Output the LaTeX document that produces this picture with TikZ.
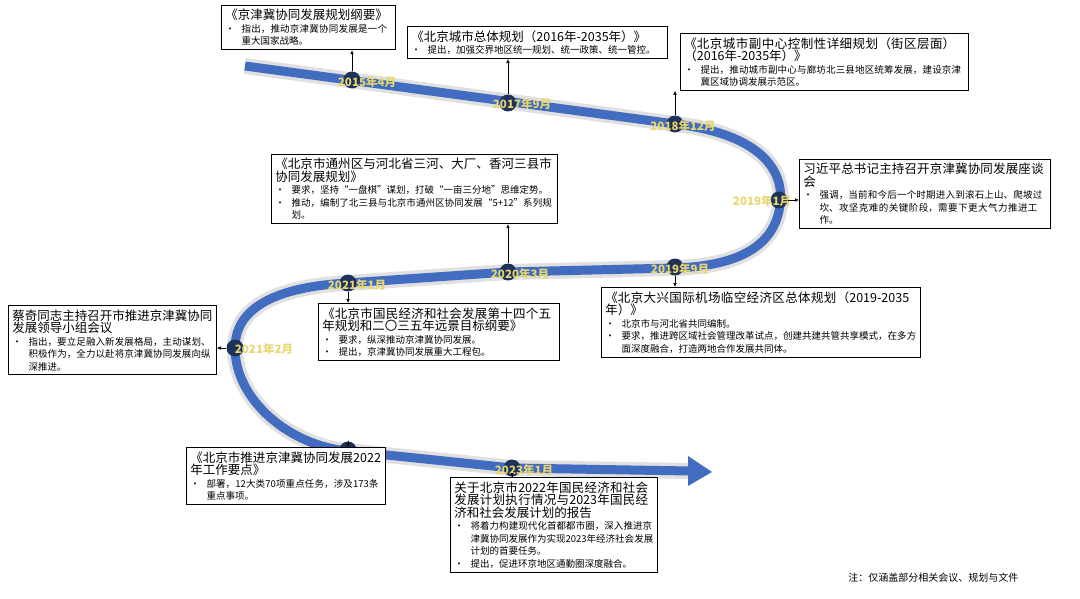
\documentclass[tikz,border=0pt]{standalone}
\usepackage{fontspec}
\setmainfont{Noto Sans CJK SC}
\XeTeXlinebreaklocale "zh"
\XeTeXlinebreakskip=0pt plus 1pt
\usetikzlibrary{arrows.meta}
\definecolor{pathblue}{RGB}{66,108,192}
\definecolor{mk}{RGB}{30,50,90}
\definecolor{lab}{RGB}{232,214,110}
\newcommand{\ttl}[1]{{\fontsize{12.5}{16}\selectfont #1}\par}
\newcommand{\bul}[1]{\par\hangindent=1.7em\hangafter=1\noindent\makebox[1.7em][l]{•}#1\par}
\tikzset{
 box/.style={draw, line width=0.8pt, fill=white, anchor=north west, inner sep=4pt, align=left, font=\fontsize{9.5}{12.5}\selectfont},
 dot/.style={circle, fill=mk, minimum size=17pt, inner sep=0pt},
 datelab/.style={text=lab, font=\bfseries\fontsize{11.5}{12}\selectfont},
 conn/.style={-{Latex[length=4pt,width=3.5pt]}, line width=0.5pt}
}
\begin{document}
\begin{tikzpicture}[x=1pt,y=-1pt]
\useasboundingbox (0,0) rectangle (1080,599);
\def\tl{(245,66) -- (675,124) .. controls (760,134) and (785,170) .. (780,205) .. controls (775,245) and (740,266) .. (675,268) -- (508,272) -- (348,283) .. controls (255,288) and (235,320) .. (235,348) .. controls (235,400) and (290,446) .. (348,451) -- (512,468) -- (690,471)}
\draw[line width=16pt, black!12, line join=round] \tl;
\draw[line width=9pt, pathblue, line join=round] \tl;
\fill[pathblue] (688,456) -- (712,472) -- (688,486) -- cycle;
\foreach \n/\x/\y in {a/352/80, b/508/103, c/675/124, d/779/200, e/675/267, f/508/272, g/348/283, h/235/348, i/348/450, j/512/468}{
  \node[dot] (m\n) at (\x,\y) {};
}
\node[datelab] at (367,82) {2015年4月};
\node[datelab] at (522,104) {2017年9月};
\node[datelab] at (683,126) {2018年12月};
\node[datelab] at (762,201) {2019年1月};
\node[datelab] at (680,269) {2019年9月};
\node[datelab] at (520,274) {2020年3月};
\node[datelab] at (357,285) {2021年1月};
\node[datelab] at (264,349) {2021年2月};
\node[datelab] at (358,453) {2022年4月};
\node[datelab] at (524,470) {2023年1月};
\node[box, text width=166pt] (b1) at (221,5) {\ttl{《京津冀协同发展规划纲要》}\bul{指出，推动京津冀协同发展是一个重大国家战略。}};
\node[box, text width=252pt] (b2) at (407,26) {\ttl{《北京城市总体规划（2016年-2035年）》}\bul{提出，加强交界地区统一规划、统一政策、统一管控。}};
\node[box, text width=280pt] (b3) at (680,33) {\ttl{《北京城市副中心控制性详细规划（街区层面）（2016年-2035年）》}\bul{提出，推动城市副中心与廊坊北三县地区统筹发展，建设京津冀区域协调发展示范区。}};
\node[box, text width=243pt] (b4) at (799,159) {\ttl{习近平总书记主持召开京津冀协同发展座谈会}\bul{强调，当前和今后一个时期进入到滚石上山、爬坡过坎、攻坚克难的关键阶段，需要下更大气力推进工作。}};
\node[box, text width=311pt] (b5) at (601,287) {\ttl{《北京大兴国际机场临空经济区总体规划（2019-2035年）》}\bul{北京市与河北省共同编制。}\bul{要求，推进跨区域社会管理改革试点，创建共建共管共享模式，在多方面深度融合，打造两地合作发展共同体。}};
\node[box, text width=278pt] (b6) at (271,154) {\ttl{《北京市通州区与河北省三河、大厂、香河三县市协同发展规划》}\bul{要求，坚持“一盘棋”谋划，打破“一亩三分地”思维定势。}\bul{推动，编制了北三县与北京市通州区协同发展“5+12”系列规划。}};
\node[box, text width=233pt] (b7) at (318,303) {\ttl{《北京市国民经济和社会发展第十四个五年规划和二〇三五年远景目标纲要》}\bul{要求，纵深推动京津冀协同发展。}\bul{提出，京津冀协同发展重大工程包。}};
\node[box, text width=200pt] (b8) at (8,305) {\ttl{蔡奇同志主持召开市推进京津冀协同发展领导小组会议}\bul{指出，要立足融入新发展格局，主动谋划、积极作为，全力以赴将京津冀协同发展向纵深推进。}};
\node[box, text width=191pt] (b9) at (186,447) {\ttl{《北京市推进京津冀协同发展2022年工作要点》}\bul{部署，12大类70项重点任务，涉及173条重点事项。}};
\node[box, text width=199pt] (b10) at (450,477) {\ttl{关于北京市2022年国民经济和社会发展计划执行情况与2023年国民经济和社会发展计划的报告}\bul{将着力构建现代化首都都市圈，深入推进京津冀协同发展作为实现2023年经济社会发展计划的首要任务。}\bul{提出，促进环京地区通勤圈深度融合。}};
\node[anchor=east, font=\fontsize{10}{12}\selectfont] (note) at (1022,578) {注：仅涵盖部分相关会议、规划与文件};
\draw[conn] (ma) -- (b1.south -| ma);
\draw[conn] (mb) -- (b2.south -| mb);
\draw[conn] (mc) -- (b3.south -| mc);
\draw[conn] (md) -- (b4.west |- md);
\draw[conn] (me) -- (b5.north -| me);
\draw[conn] (mf) -- (b6.south -| mf);
\draw[conn] (mg) -- (b7.north -| mg);
\draw[conn] (mh) -- (b8.east |- mh);
\draw[conn] (mi) -- (b9.north -| mi);
\draw[conn] (mj) -- (b10.north -| mj);
\end{tikzpicture}
\end{document}
